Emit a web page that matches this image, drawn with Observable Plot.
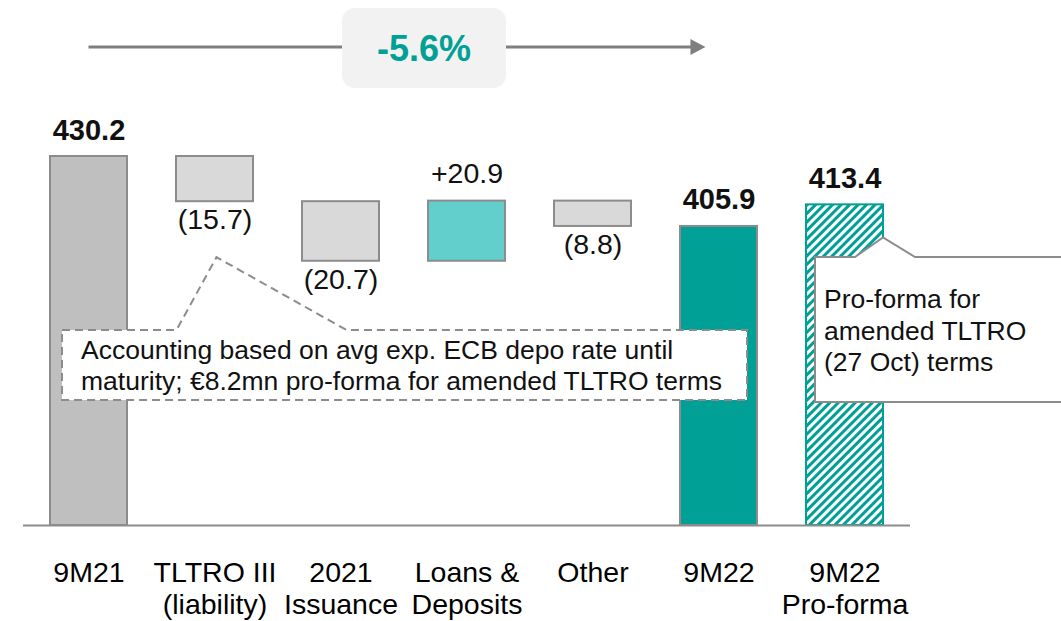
<!DOCTYPE html>
<html>
<head>
<meta charset="utf-8">
<script src="https://cdn.jsdelivr.net/npm/d3@7"></script>
<script src="https://cdn.jsdelivr.net/npm/@observablehq/plot@0.6"></script>
<style>
  html, body { margin: 0; padding: 0; background: #fff; }
  body { width: 1061px; height: 621px; overflow: hidden; font-family: "Liberation Sans", Arial, sans-serif; }
</style>
</head>
<body>
<div id="chart"></div>
<script>
// ---- data ----
const categories = ["9M21", "TLTRO III\n(liability)", "2021\nIssuance", "Loans &\nDeposits", "Other", "9M22", "9M22\nPro-forma"];
const values = [430.2, -15.7, -20.7, 20.9, -8.8, 405.9, 413.4];
const kinds = ["start", "neg", "neg", "pos", "neg", "total", "proforma"];
const valueLabels = ["430.2", "(15.7)", "(20.7)", "+20.9", "(8.8)", "405.9", "413.4"];
const changeLabel = "-5.6%";
const noteTLTRO = ["Accounting based on avg exp. ECB depo rate until", "maturity; €8.2mn pro-forma for amended TLTRO terms"];
const noteProforma = ["Pro-forma for", "amended TLTRO", "(27 Oct) terms"];
const yFloor = 302; // value axis starts here (broken axis in source)

// ---- build waterfall table ----
let running = 0;
const rows = categories.map((c, i) => {
  const k = kinds[i];
  let y1, y2;
  if (k === "neg" || k === "pos") { y1 = running; y2 = running + values[i]; running = y2; }
  else { y1 = yFloor; y2 = values[i]; if (k !== "proforma") running = values[i]; }
  return { cat: c, kind: k, y1, y2, top: Math.max(y1, y2), bottom: Math.min(y1, y2), label: valueLabels[i], bold: k === "start" || k === "total" || k === "proforma" };
});

const fills = { start: "#bfbfbf", neg: "#d9d9d9", pos: "#62cfcc", total: "#00a096", proforma: "url(#hatch)" };
const strokes = { start: "#8c8c8c", neg: "#8c8c8c", pos: "#8c8c8c", total: "#8c8c8c", proforma: "#00a096" };
const font = "'Liberation Sans', Arial, sans-serif";

const above = rows.filter(d => d.kind !== "neg");
const below = rows.filter(d => d.kind === "neg");

const plot = Plot.plot({
  width: 1061,
  height: 621,
  marginLeft: 23,
  marginRight: 151,
  marginTop: 156,
  marginBottom: 96,
  style: { fontFamily: font, background: "white", overflow: "visible" },
  x: { domain: categories, paddingInner: 0.39, paddingOuter: 0.195, align: 0.5, label: null },
  y: { domain: [yFloor, 430.2], axis: null },
  marks: [
    Plot.barY(rows, { x: "cat", y1: "y1", y2: "y2", fill: d => fills[d.kind], stroke: d => strokes[d.kind], strokeWidth: 2 }),
    Plot.ruleY([yFloor], { stroke: "#8c8c8c", strokeWidth: 2 }),
    Plot.axisX({ tickSize: 0, tickPadding: 34, fontSize: 28.5, lineHeight: 1.11, fill: "#000", label: null }),
    Plot.text(above.filter(d => d.bold), { x: "cat", y: "top", text: "label", lineAnchor: "bottom", dy: -17, fontSize: 29, fontWeight: "bold", fill: "#111" }),
    Plot.text(above.filter(d => !d.bold), { x: "cat", y: "top", text: "label", lineAnchor: "bottom", dy: -18, fontSize: 28.5, fill: "#111" }),
    Plot.text(below, { x: "cat", y: "bottom", text: "label", lineAnchor: "top", dy: 7, fontSize: 28.5, fill: "#111" })
  ]
});
document.getElementById("chart").appendChild(plot);

const svg = d3.select(plot);
svg.insert("defs", ":first-child").html(
  `<pattern id="hatch" patternUnits="userSpaceOnUse" width="6" height="6" patternTransform="rotate(45)">
     <rect width="6" height="6" fill="white"/>
     <rect x="0" y="0" width="3" height="6" fill="#00a096"/>
   </pattern>`);

const xs = plot.scale("x"), ys = plot.scale("y");
const bw = xs.bandwidth;
const xL = c => xs.apply(c);
const yP = v => ys.apply(v);

// --- top growth arrow ---
const g = svg.append("g").attr("text-anchor", "start");
const xStart = xL(categories[0]) + bw / 2;
const xEnd = xL(categories[5]) + bw * 0.33;
const yArrow = 47;
g.append("line").attr("x1", xStart).attr("x2", xEnd - 12).attr("y1", yArrow).attr("y2", yArrow)
  .attr("stroke", "#7f7f7f").attr("stroke-width", 3);
g.append("path").attr("d", `M${xEnd},${yArrow} L${xEnd - 15},${yArrow - 8} L${xEnd - 15},${yArrow + 8} Z`).attr("fill", "#7f7f7f");
const boxCx = xL(categories[3]) - 4;
g.append("rect").attr("x", boxCx - 82).attr("y", 8).attr("width", 164).attr("height", 80).attr("rx", 13)
  .attr("fill", "#f2f2f2");
g.append("text").attr("x", boxCx).attr("y", 61).attr("text-anchor", "middle")
  .attr("font-size", 36).attr("font-weight", "bold").attr("fill", "#00a096").attr("font-family", font).text(changeLabel);

// --- dashed TLTRO callout ---
const apexX = xL(categories[1]) + bw / 2 + 2;
const apexY = yP(rows[1].bottom) + 56;
const bx0 = xL(categories[0]) + 12, bx1 = xL(categories[5]) + 67, by0 = 330, by1 = 400;
g.append("path")
  .attr("d", `M${bx0},${by0} L${apexX - 40},${by0} L${apexX},${apexY} L${apexX + 130},${by0} L${bx1},${by0} L${bx1},${by1} L${bx0},${by1} Z`)
  .attr("fill", "white").attr("stroke", "#8c8c8c").attr("stroke-width", 2).attr("stroke-dasharray", "8,5");
const t1 = g.append("text").attr("font-size", 26.5).attr("fill", "#111").attr("font-family", font).attr("text-anchor", "start");
noteTLTRO.forEach((s, i) => t1.append("tspan").attr("x", bx0 + 19).attr("y", 359 + i * 31).text(s));

// --- pro-forma callout ---
const pfRight = xL(categories[6]) + bw;
const px0 = xL(categories[6]) + 9, py0 = 257, py1 = 402, px1 = 1070;
const notchY = yP(rows[6].top) + 33;
g.append("path")
  .attr("d", `M${px0},${py0} L${pfRight - 28},${py0} L${pfRight},${notchY} L${pfRight + 32},${py0} L${px1},${py0} L${px1},${py1} L${px0},${py1} Z`)
  .attr("fill", "white").attr("stroke", "#8c8c8c").attr("stroke-width", 2);
const t2 = g.append("text").attr("font-size", 26.5).attr("fill", "#111").attr("font-family", font).attr("text-anchor", "start");
noteProforma.forEach((s, i) => t2.append("tspan").attr("x", px0 + 9).attr("y", 308 + i * 31.5).text(s));
</script>
</body>
</html>
